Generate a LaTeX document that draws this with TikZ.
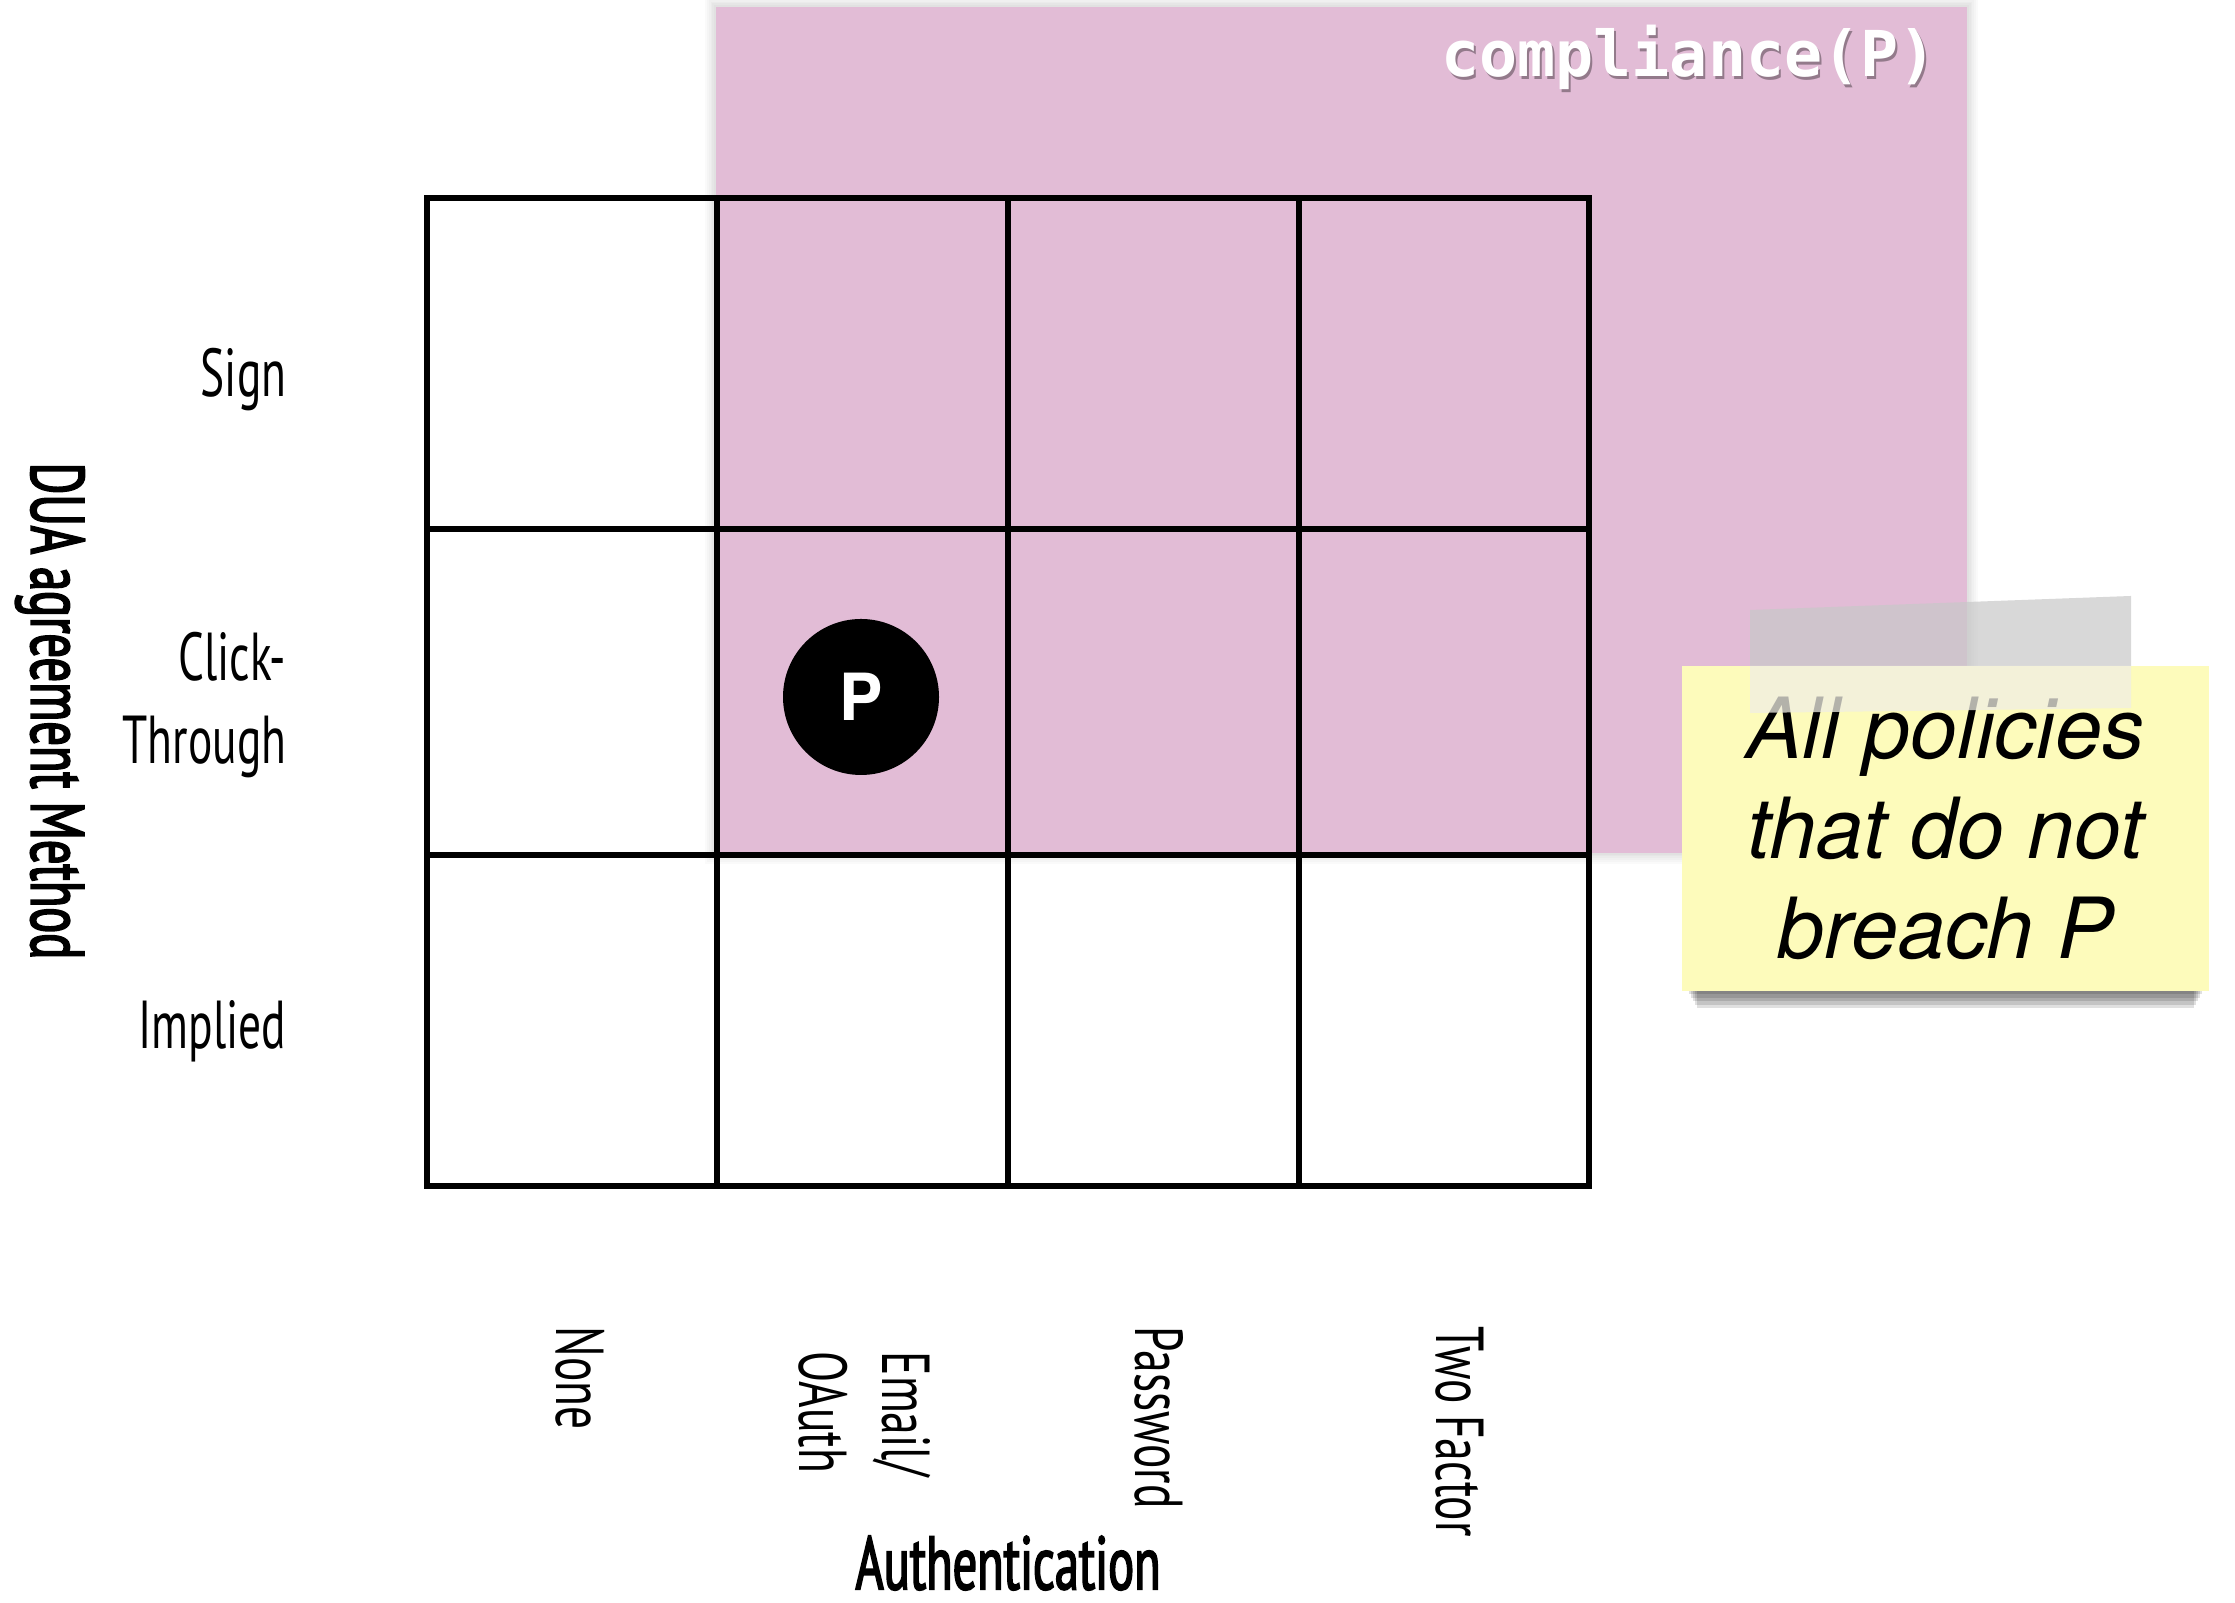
\documentclass[tikz,border=0pt]{standalone}
\usepackage{fontspec}
\usepackage{tikz}
\usetikzlibrary{shadows,positioning}
\newfontfamily\condfont[FakeStretch=0.67]{PT Sans}
\newfontfamily\axisfont[FakeStretch=0.64, FakeBold=2.2]{PT Sans}
\newfontfamily\notefont{TeX Gyre Heros}
\newfontfamily\codefont{DejaVu Sans Mono}
\definecolor{compink}{RGB}{226,188,214}
\definecolor{noteyellow}{RGB}{253,251,187}
\definecolor{tapegray}{RGB}{200,200,200}
\definecolor{tapecream}{RGB}{240,238,228}

\begin{document}
\begin{tikzpicture}[
    rowlabel/.style={anchor=east, align=right, inner sep=0pt,
      font=\condfont\fontsize{19.3}{23.6}\selectfont},
    collabel/.style={rotate=-90, anchor=west, align=left, inner sep=0pt,
      font=\condfont\fontsize{19.3}{23.6}\selectfont},
    axislabel/.style={inner sep=0pt, font=\axisfont\fontsize{21.5}{25}\selectfont},
    gridline/.style={line width=1.9pt, line cap=rect}
  ]
  \fill[white] (0,0) rectangle (22.35,16.03);
  \useasboundingbox (0,0) rectangle (22.35,16.03);

  % ---- compliance region ----
  \foreach \w in {1,...,6}
    \draw[black, opacity=0.02, line width=\w pt] (7.16,7.50) rectangle (19.67,15.96);
  \fill[compink] (7.16,7.50) rectangle (19.67,15.96);
  \node[anchor=east, text=black, opacity=0.35,
        font=\codefont\bfseries\fontsize{18}{20}\selectfont] (compshadow) at (19.51,15.43) {compliance(P)};
  \node[anchor=east, text=white,
        font=\codefont\bfseries\fontsize{18}{20}\selectfont] (comp) at (19.49,15.46) {compliance(P)};

  % ---- 4x3 policy grid ----
  \foreach \x in {4.27,7.17,10.08,12.99,15.89}
    \draw[gridline] (\x,4.17) -- (\x,14.05);
  \foreach \y in {4.17,7.48,10.74,14.05}
    \draw[gridline] (4.27,\y) -- (15.89,\y);

  \node[circle, fill=black, minimum size=1.56cm, inner sep=0pt, text=white,
        font=\notefont\bfseries\fontsize{18.5}{20}\selectfont] (pol) at (8.61,9.06) {P};

  % ---- axis labels ----
  \node[rowlabel] (sign) at (2.87,12.23) {Sign};
  \node[rowlabel] (click) at (2.87,8.98) {Click-\\Through};
  \node[rowlabel] (implied) at (2.87,5.72) {Implied};
  \node[axislabel, rotate=-90] (dua) at (0.50,8.92) {DUA agreement Method};

  \node[collabel] (none) at (5.80,2.77) {None};
  \node[collabel] (email) at (8.65,2.52) {Email/\\OAuth};
  \node[collabel] (passwd) at (11.59,2.77) {Password};
  \node[collabel] (twofac) at (14.60,2.77) {Two Factor};
  \node[axislabel] (auth) at (10.08,0.40) {Authentication};

  % ---- sticky note with tape ----
  \foreach \s in {1,...,5}
    \fill[black, opacity=0.12] (16.87+0.02*\s,6.12-0.035*\s) rectangle (22.04-0.02*\s,6.6);
  \node[fill=noteyellow, minimum width=5.27cm, minimum height=3.25cm, align=center,
        font=\notefont\itshape\fontsize{24}{28.5}\selectfont] (note) at (19.455,7.745)
        {All policies\\that do not\\breach P};
  \fill[tapegray, opacity=0.7] (17.50,9.37) -- (17.50,9.93) -- (21.31,10.07) -- (21.31,9.37) -- cycle;
  \fill[tapecream, opacity=0.75] (17.50,9.37) -- (21.31,9.37) -- (21.31,8.95) -- (17.50,8.90) -- cycle;
\end{tikzpicture}
\end{document}
